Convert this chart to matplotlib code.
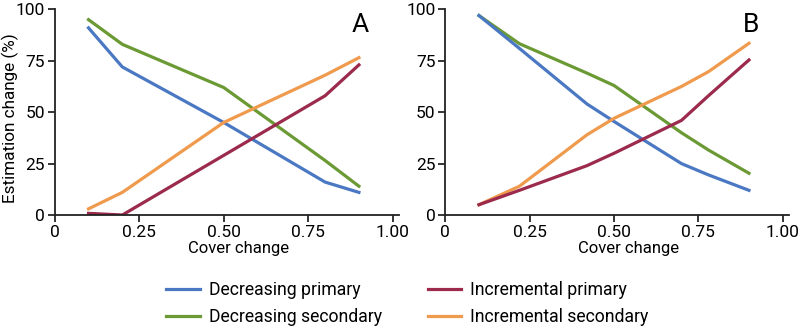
import matplotlib
matplotlib.use("Agg")
import matplotlib.pyplot as plt
from matplotlib.lines import Line2D

plt.rcParams['font.family'] = ['Roboto', 'DejaVu Sans']

# Panel A data
a_x = [0.1, 0.2, 0.5, 0.8, 0.9]
a_dec_primary = [91, 72, 45, 16, 11]
a_dec_secondary = [95, 83, 62, 26.5, 14]
a_inc_primary = [0.8, 0, 29, 58, 73]
a_inc_secondary = [3, 11, 45, 68, 76.5]

# Panel B data
b_x = [0.1, 0.22, 0.42, 0.5, 0.7, 0.78, 0.9]
b_dec_primary = [97, 81, 54, 45.5, 25, 19.5, 12]
b_dec_secondary = [97, 83.3, 69, 63, 40, 31.6, 20.3]
b_inc_primary = [5, 12, 24, 30, 46, 58, 75.4]
b_inc_secondary = [5, 14, 39, 47, 62.5, 69.7, 83.5]

x_ticks = [0, 0.25, 0.5, 0.75, 1.0]
x_ticklabels = ['0', '0.25', '0.50', '0.75', '1.00']
y_ticks = [0, 25, 50, 75, 100]

series_names = ['Decreasing primary', 'Decreasing secondary',
                'Incremental primary', 'Incremental secondary']
c_blue = '#4a78c2'
c_red = '#9b2a4c'
c_green = '#6b9a35'
c_orange = '#ef9a4c'

fig = plt.figure(figsize=(8, 3.29), dpi=100)
axA = fig.add_axes([0.0684, 0.3465, 0.4225 * 1.02, 0.625])
axB = fig.add_axes([0.5565, 0.3465, 0.4219 * 1.02, 0.625])

lw = 2.3
fs = 12.5
for ax, x, dp, ds, ip, isec, lab in [
        (axA, a_x, a_dec_primary, a_dec_secondary, a_inc_primary, a_inc_secondary, 'A'),
        (axB, b_x, b_dec_primary, b_dec_secondary, b_inc_primary, b_inc_secondary, 'B')]:
    ax.plot(x, ds, color=c_green, lw=lw, solid_joinstyle='round')
    ax.plot(x, dp, color=c_blue, lw=lw, solid_joinstyle='round')
    ax.plot(x, isec, color=c_orange, lw=lw, solid_joinstyle='round')
    ax.plot(x, ip, color=c_red, lw=lw, solid_joinstyle='round')
    ax.set_xlim(0, 1.02)
    ax.set_ylim(0, 100)
    ax.set_xticks(x_ticks)
    ax.set_xticklabels(x_ticklabels)
    ax.set_yticks(y_ticks)
    for s in ['top', 'right']:
        ax.spines[s].set_visible(False)
    for s in ['left', 'bottom']:
        ax.spines[s].set_linewidth(1.3)
        ax.spines[s].set_color('#222222')
    ax.tick_params(direction='out', length=5, width=1.1, labelsize=fs, pad=2)
    ax.set_xlabel('Cover change', fontsize=12, va='center')
    ax.xaxis.set_label_coords(0.532, -0.165)
    ax.text(0.905, 89, lab, fontsize=19, ha='center', va='baseline')
    for t in ax.get_xticklabels() + ax.get_yticklabels():
        t.set_clip_on(False)

axA.set_ylabel('Estimation change (%)', fontsize=12.3, va='center')
axA.yaxis.set_label_coords(-0.128, 0.47)

handles = [Line2D([], [], color=c_blue, lw=lw),
           Line2D([], [], color=c_green, lw=lw),
           Line2D([], [], color=c_red, lw=lw),
           Line2D([], [], color=c_orange, lw=lw)]
fig.legend(handles, series_names, loc='center', bbox_to_anchor=(0.509, 0.0765),
           ncol=2, frameon=False, fontsize=12.7, handlelength=1.9,
           columnspacing=2.6, labelspacing=0.5, handletextpad=0.5)

fig.savefig('out.png', dpi=100)
